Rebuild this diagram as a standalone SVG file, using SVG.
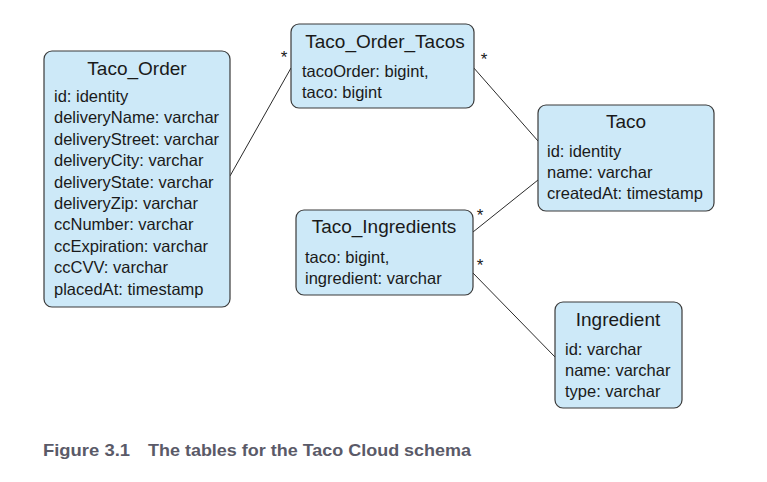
<svg xmlns="http://www.w3.org/2000/svg" width="767" height="482" viewBox="0 0 767 482">
<style>
.box{fill:#cde9f8;stroke:#3a3a3a;stroke-width:1.2}
.t{font-family:"Liberation Sans",Arial,sans-serif;font-size:19px;fill:#1a1a1a;text-anchor:middle}
.a{font-family:"Liberation Sans",Arial,sans-serif;font-size:16.5px;fill:#1a1a1a}
.s{font-family:"Liberation Sans",Arial,sans-serif;font-size:17px;fill:#1a1a1a;text-anchor:middle}
.c{stroke:#2a2a2a;stroke-width:1;fill:none}
.cap{font-family:"Liberation Sans",Arial,sans-serif;font-size:17px;font-weight:bold;fill:#5a5a68}
</style>
<rect width="767" height="482" fill="#ffffff"/>
<g id="connectors">
<line class="c" x1="230" y1="176" x2="291" y2="68"/>
<line class="c" x1="473" y1="67" x2="538" y2="141"/>
<line class="c" x1="473" y1="232" x2="538" y2="180"/>
<line class="c" x1="472" y1="272" x2="555" y2="357"/>
<text class="s" x="284" y="63">*</text>
<text class="s" x="484" y="65">*</text>
<text class="s" x="480" y="221">*</text>
<text class="s" x="480" y="271">*</text>
</g>
<g id="Taco_Order">
<rect class="box" x="44" y="51" width="186" height="256" rx="8"/>
<text class="t" x="137" y="75">Taco_Order</text>
<text class="a" x="54" y="102">id: identity</text>
<text class="a" x="54" y="123.4">deliveryName: varchar</text>
<text class="a" x="54" y="144.8">deliveryStreet: varchar</text>
<text class="a" x="54" y="166.2">deliveryCity: varchar</text>
<text class="a" x="54" y="187.6">deliveryState: varchar</text>
<text class="a" x="54" y="209">deliveryZip: varchar</text>
<text class="a" x="54" y="230.4">ccNumber: varchar</text>
<text class="a" x="54" y="251.8">ccExpiration: varchar</text>
<text class="a" x="54" y="273.2">ccCVV: varchar</text>
<text class="a" x="54" y="294.6">placedAt: timestamp</text>
</g>
<g id="Taco_Order_Tacos">
<rect class="box" x="291" y="24" width="183" height="84" rx="8"/>
<text class="t" x="385" y="48">Taco_Order_Tacos</text>
<text class="a" x="302" y="77">tacoOrder: bigint,</text>
<text class="a" x="302" y="98">taco: bigint</text>
</g>
<g id="Taco_Ingredients">
<rect class="box" x="296" y="210" width="177" height="85" rx="8"/>
<text class="t" x="384" y="233">Taco_Ingredients</text>
<text class="a" x="305" y="263">taco: bigint,</text>
<text class="a" x="305" y="284">ingredient: varchar</text>
</g>
<g id="Taco">
<rect class="box" x="538" y="105" width="176" height="106" rx="8"/>
<text class="t" x="626" y="128">Taco</text>
<text class="a" x="547" y="157">id: identity</text>
<text class="a" x="547" y="178">name: varchar</text>
<text class="a" x="547" y="199">createdAt: timestamp</text>
</g>
<g id="Ingredient">
<rect class="box" x="555" y="302" width="127" height="106" rx="8"/>
<text class="t" x="618" y="326">Ingredient</text>
<text class="a" x="565" y="355">id: varchar</text>
<text class="a" x="565" y="376">name: varchar</text>
<text class="a" x="565" y="397">type: varchar</text>
</g>
<text class="cap" x="43" y="456" textLength="87" lengthAdjust="spacingAndGlyphs">Figure 3.1</text>
<text class="cap" x="148" y="456" textLength="323" lengthAdjust="spacingAndGlyphs">The tables for the Taco Cloud schema</text>
</svg>
